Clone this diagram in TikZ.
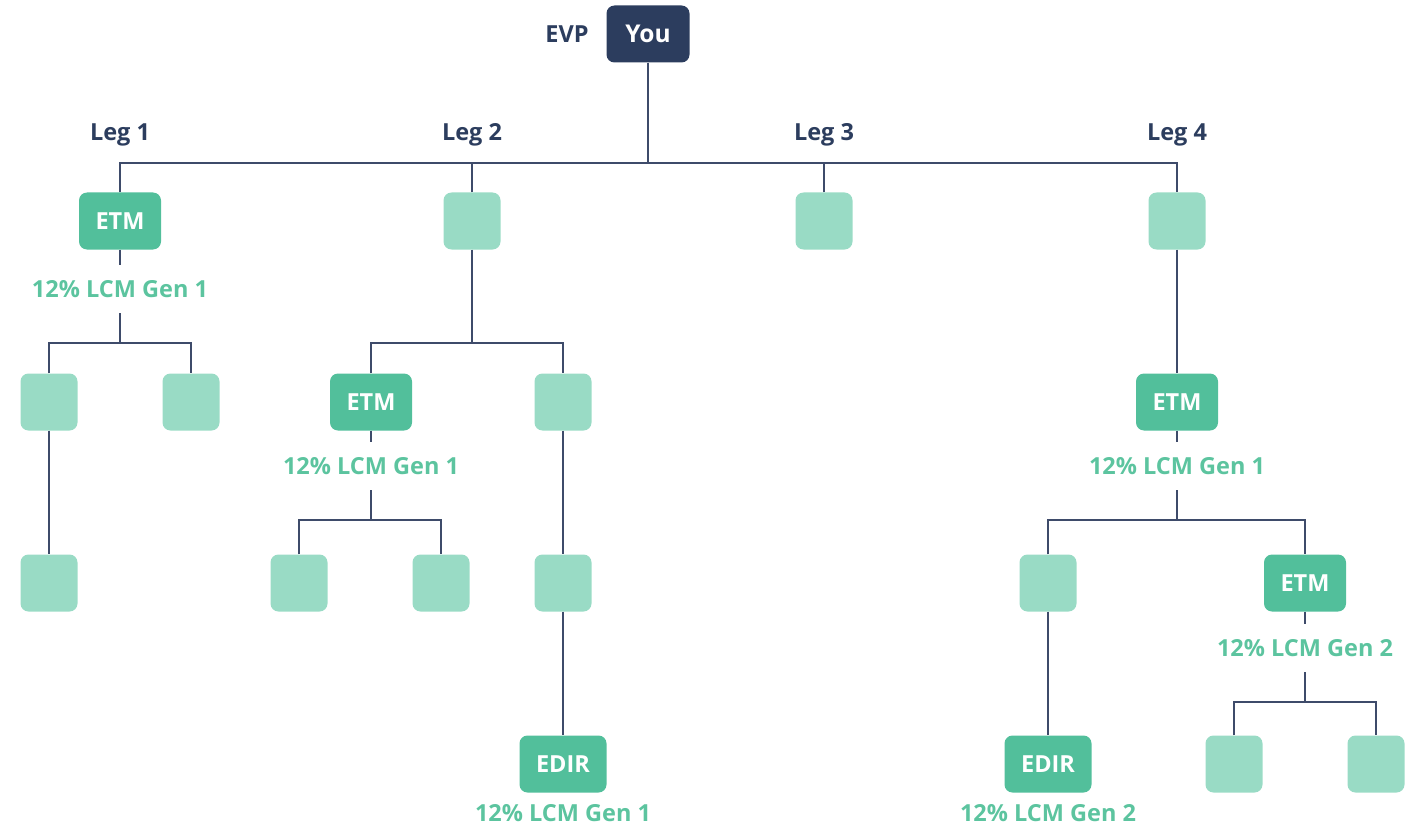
\documentclass[tikz,border=0pt]{standalone}
\usepackage{fontspec}
\setmainfont{Open Sans}
\definecolor{navy}{HTML}{2C3D5E}
\definecolor{linec}{HTML}{3E4B6A}
\definecolor{midg}{HTML}{52BF9B}
\definecolor{lightg}{HTML}{99DBC5}
\definecolor{labc}{HTML}{5CC49F}
\begin{document}
\begin{tikzpicture}[x=1pt,y=-1pt,
  conn/.style={draw=linec, line width=2pt},
  sq/.style={rounded corners=8pt, fill=lightg, minimum width=57pt, minimum height=57pt, inner sep=0pt},
  etm/.style={rounded corners=8pt, fill=midg, text=white, minimum width=82pt, minimum height=57pt, inner sep=0pt, font=\fontsize{23.5}{28}\selectfont\bfseries},
  edir/.style={etm, minimum width=87pt},
  you/.style={rounded corners=8pt, fill=navy, text=white, minimum width=83pt, minimum height=57pt, inner sep=0pt, font=\fontsize{24.5}{29}\selectfont\bfseries},
  lab/.style={text=labc, minimum height=48pt, inner sep=0pt, font=\fontsize{23.5}{28}\selectfont\bfseries},
  leg/.style={text=navy, inner sep=0pt, font=\fontsize{23.5}{28}\selectfont\bfseries}
]
\useasboundingbox (0,0) rectangle (1415,829);
% top
\node[you] (you) at (648,34) {You};
\node[leg] (evp) at (567,34) {EVP};
\node[leg] (leg1) at (120,135) {Leg 1};
\node[leg] (leg2) at (472,135) {Leg 2};
\node[leg] (leg3) at (824,135) {Leg 3};
\node[leg] (leg4) at (1177,135) {Leg 4};
\coordinate (bar) at (648,163);
% level 1
\node[etm] (a1) at (120,221) {ETM};
\node[sq] (a2) at (472,221) {};
\node[sq] (a3) at (824,221) {};
\node[sq] (a4) at (1177,221) {};
\draw[conn] (you.south) -- (bar);
\draw[conn] (a1.north) |- (bar) -| (a4.north);
\draw[conn] (a2.north) -- (a2.north |- bar);
\draw[conn] (a3.north) -- (a3.north |- bar);
% leg 1
\node[lab] (l1) at (120,289) {12\% LCM Gen 1};
\coordinate (j1) at (120,343);
\node[sq] (b1) at (49,402) {};
\node[sq] (b2) at (191,402) {};
\node[sq] (c1) at (49,583) {};
\draw[conn] (a1.south) -- (l1.north);
\draw[conn] (l1.south) -- (j1);
\draw[conn] (b1.north) |- (j1) -| (b2.north);
\draw[conn] (b1.south) -- (c1.north);
% leg 2
\coordinate (j2) at (472,343);
\node[etm] (b3) at (371,402) {ETM};
\node[sq] (b4) at (563,402) {};
\draw[conn] (a2.south) -- (j2);
\draw[conn] (b3.north) |- (j2) -| (b4.north);
\node[lab] (l2) at (371,466) {12\% LCM Gen 1};
\coordinate (j3) at (371,520);
\node[sq] (c2) at (299,583) {};
\node[sq] (c3) at (441,583) {};
\draw[conn] (b3.south) -- (l2.north);
\draw[conn] (l2.south) -- (j3);
\draw[conn] (c2.north) |- (j3) -| (c3.north);
\node[sq] (c4) at (563,583) {};
\node[edir] (d1) at (563,764) {EDIR};
\node[lab, minimum height=0pt] (l3) at (563,813) {12\% LCM Gen 1};
\draw[conn] (b4.south) -- (c4.north);
\draw[conn] (c4.south) -- (d1.north);
% leg 4
\node[etm] (b5) at (1177,402) {ETM};
\draw[conn] (a4.south) -- (b5.north);
\node[lab] (l4) at (1177,466) {12\% LCM Gen 1};
\coordinate (j4) at (1177,520);
\node[sq] (c5) at (1048,583) {};
\node[etm] (c6) at (1305,583) {ETM};
\draw[conn] (b5.south) -- (l4.north);
\draw[conn] (l4.south) -- (j4);
\draw[conn] (c5.north) |- (j4) -| (c6.north);
\node[edir] (d2) at (1048,764) {EDIR};
\node[lab, minimum height=0pt] (l5) at (1048,813) {12\% LCM Gen 2};
\draw[conn] (c5.south) -- (d2.north);
\node[lab] (l6) at (1305,648) {12\% LCM Gen 2};
\coordinate (j5) at (1305,702);
\node[sq] (d3) at (1234,764) {};
\node[sq] (d4) at (1376,764) {};
\draw[conn] (c6.south) -- (l6.north);
\draw[conn] (l6.south) -- (j5);
\draw[conn] (d3.north) |- (j5) -| (d4.north);
\end{tikzpicture}
\end{document}
